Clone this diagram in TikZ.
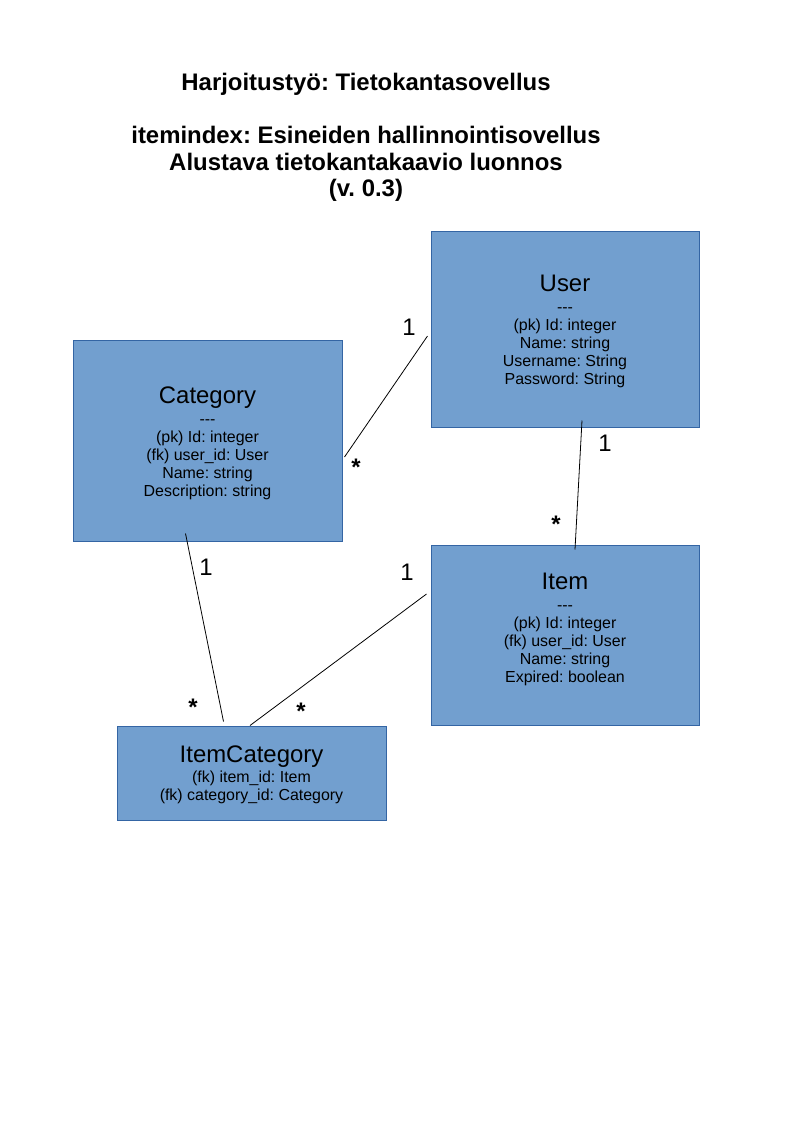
\documentclass[tikz,border=0pt]{standalone}
\usepackage{fontspec}
\setmainfont{Liberation Sans}
\frenchspacing
\definecolor{boxfill}{HTML}{729FCF}
\definecolor{boxline}{HTML}{3465A4}
\newcommand{\pxu}{0.026448cm}

\begin{document}
\begin{tikzpicture}[x=0.026448cm, y=-0.026448cm,
		entity/.style={draw=boxline, fill=boxfill, line width=0.75pt},
		fields/.style={align=center, font=\fontsize{12}{13.5}\selectfont},
		heading/.style={align=center, font=\bfseries\fontsize{18}{19.9}\selectfont},
		rel/.style={black, line width=0.6pt},
		one/.style={font=\fontsize{18}{20}\selectfont},
		many/.style={font=\bfseries\fontsize{18}{20}\selectfont}]
		\tikzstyle{every node}+=[inner sep=0pt]
		\useasboundingbox (0,0) rectangle (794,1123);
		\node [heading] (title) at (366,137.6) {Harjoitustyö: Tietokantasovellus\\[19.9pt]
			itemindex: Esineiden hallinnointisovellus\\
			Alustava tietokantakaavio luonnos\\
			(v. 0.3)};
		\node [entity, minimum width=268*\pxu, minimum height=196*\pxu] (user) at (565,329) {};
		\node [entity, minimum width=269*\pxu, minimum height=201*\pxu] (category) at (207.5,440.5) {};
		\node [entity, minimum width=268*\pxu, minimum height=180*\pxu] (item) at (565,635) {};
		\node [entity, minimum width=269*\pxu, minimum height=94*\pxu] (itemcat) at (251.5,773) {};
		\node [fields] (usertext) at (565,331.3) {{\fontsize{18}{20}\selectfont User}\\[2.3pt]
			-{}-{}-\\ (pk) Id: integer\\ Name: string\\ Username: String\\ Password: String};
		\node [fields] (categorytext) at (207.5,443) {{\fontsize{18}{20}\selectfont Category}\\[2.3pt]
			-{}-{}-\\ (pk) Id: integer\\ (fk) user\_id: User\\ Name: string\\ Description: string};
		\node [fields] (itemtext) at (565,629.6) {{\fontsize{18}{20}\selectfont Item}\\[2.3pt]
			-{}-{}-\\ (pk) Id: integer\\ (fk) user\_id: User\\ Name: string\\ Expired: boolean};
		\node [fields] (itemcattext) at (251.5,774.8) {{\fontsize{18}{20}\selectfont ItemCategory}\\[1pt]
			(fk) item\_id: Item\\ (fk) category\_id: Category};
		\draw [rel] ([shift={(2,16.5)}]category.east) -- ([shift={(-3,7)}]user.west);
		\draw [rel] ([shift={(17,-7)}]user.south) -- ([shift={(10,5)}]item.north);
		\draw [rel] ([shift={(-22,-8)}]category.south) -- ([shift={(-28,-4)}]itemcat.north);
		\draw [rel] ([shift={(-4,-41)}]item.west) -- ([shift={(-1.5,0)}]itemcat.north);
		\node [one] (catuser1) at (409,327) {1};
		\node [many] (catusern) at (356,467) {*};
		\node [one] (useritem1) at (605,443) {1};
		\node [many] (useritemn) at (556,524) {*};
		\node [one] (catic1) at (206,567) {1};
		\node [many] (caticn) at (193,707) {*};
		\node [one] (itemic1) at (407,572) {1};
		\node [many] (itemicn) at (301,711) {*};
	\end{tikzpicture}
\end{document}
